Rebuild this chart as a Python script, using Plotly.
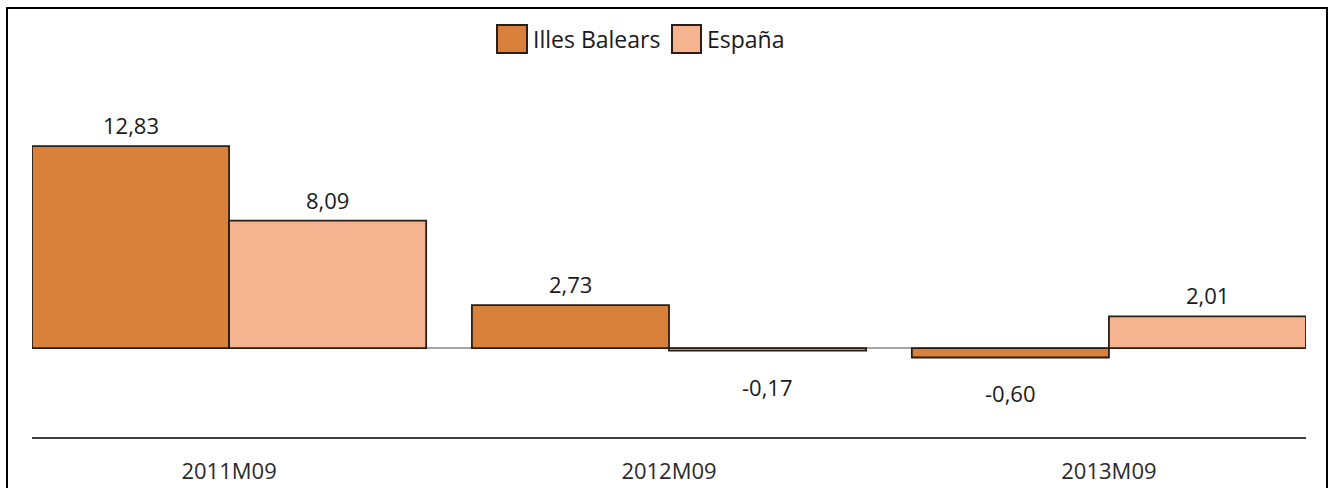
import plotly.graph_objects as go

categories = ["2011M09", "2012M09", "2013M09"]
baleares = [12.83, 2.73, -0.60]
espana = [8.09, -0.17, 2.01]
series_names = ["Illes Balears", "España"]
colors = ["#D9803A", "#F5B38F"]

W, H = 1335, 488
L, R, T, B = 32, 29, 70, 51
PW, PH = W - L - R, H - T - B
w = 0.448  # bar width in category units
xpos = list(range(len(categories)))
FONT = "Open Sans, Noto Sans, sans-serif"


def px(x):
    return (x - L) / PW


def py(y):
    return (H - B - y) / PH


def fmt(v):
    return f"{v:.2f}".replace(".", ",")


fig = go.Figure()
for name, vals, col, off in [(series_names[0], baleares, colors[0], -w),
                             (series_names[1], espana, colors[1], 0.0)]:
    fig.add_trace(go.Bar(
        x=xpos, y=vals, name=name, width=w, offset=off,
        marker=dict(color=col, line=dict(color="#2a1d16", width=1.8)),
        showlegend=False, hoverinfo="skip",
    ))

annotations = []
for vals, off in [(baleares, -w / 2), (espana, w / 2)]:
    for i, v in enumerate(vals):
        annotations.append(dict(
            x=i + off, y=v, xref="x", yref="y", text=fmt(v), showarrow=False,
            yshift=21 if v >= 0 else -36, yanchor="middle",
            font=dict(family=FONT, size=22, color="#1a1a1a"),
        ))

# manual legend (large square swatches, as in the reference)
shapes = []
legend_items = [(series_names[0], colors[0], 497, 527, 531),
                (series_names[1], colors[1], 672, 701, 705)]
for name, col, sx0, sx1, tx in legend_items:
    shapes.append(dict(type="rect", xref="paper", yref="paper",
                       x0=px(sx0), x1=px(sx1), y0=py(53), y1=py(25),
                       fillcolor=col, line=dict(color="#2b1d16", width=2)))
    annotations.append(dict(x=px(tx), y=py(39), xref="paper", yref="paper",
                            text=name, showarrow=False, xanchor="left", yanchor="middle",
                            font=dict(family=FONT, size=23, color="#1a1a1a")))

# outer frame
shapes.append(dict(type="rect", xref="paper", yref="paper",
                   x0=px(7), x1=px(1327), y0=py(500), y1=py(8),
                   line=dict(color="black", width=2), fillcolor="rgba(0,0,0,0)",
                   layer="below"))

fig.update_layout(
    width=W, height=H,
    margin=dict(l=L, r=R, t=T, b=B, autoexpand=False),
    plot_bgcolor="white", paper_bgcolor="white",
    barmode="overlay",
    showlegend=False,
    annotations=annotations,
    shapes=shapes,
)
fig.update_xaxes(
    range=[-0.448, 2.448], tickmode="array", tickvals=xpos, ticktext=categories,
    showgrid=False, zeroline=False, showline=True, linecolor="#404040", linewidth=2,
    ticks="", ticklabelstandoff=14, automargin=False,
    tickfont=dict(family=FONT, size=22, color="#2a2a2a"),
)
fig.update_yaxes(
    range=[-5.65, 17.66], showgrid=False, showticklabels=False, ticks="",
    zeroline=True, zerolinecolor="#a6a6a6", zerolinewidth=2, showline=False,
    automargin=False,
)

fig.write_html(
    "out.html",
    config={"displayModeBar": False},
    post_script="document.body.style.margin='0px';document.body.style.overflow='hidden';",
)
